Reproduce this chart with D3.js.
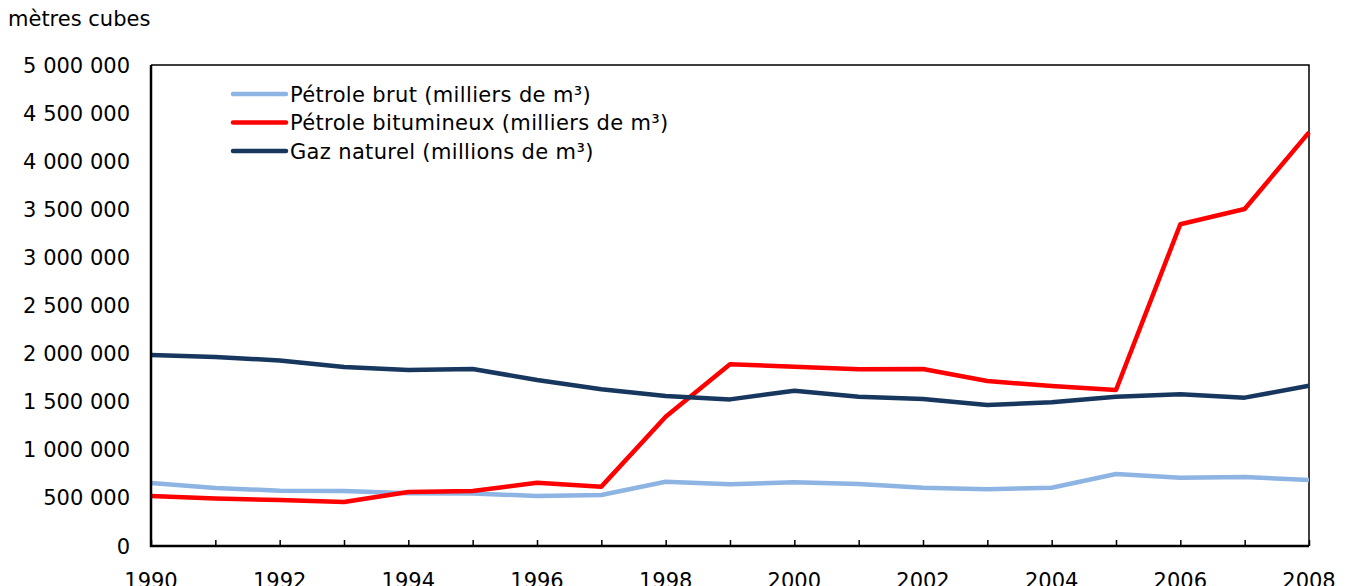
<!DOCTYPE html>
<html>
<head>
<meta charset="utf-8">
<script src="https://cdn.jsdelivr.net/npm/d3@7"></script>
<style>
body { margin: 0; background: #fff; }
svg { font-family: "DejaVu Sans", Verdana, sans-serif; }
</style>
</head>
<body>
<svg id="chart" width="1353" height="586"></svg>
<script>
var years = [1990,1991,1992,1993,1994,1995,1996,1997,1998,1999,2000,2001,2002,2003,2004,2005,2006,2007,2008];
var yearLabels = [1990,1992,1994,1996,1998,2000,2002,2004,2006,2008];
var yTicks = [0,500000,1000000,1500000,2000000,2500000,3000000,3500000,4000000,4500000,5000000];

var brut = [655000,603000,575000,572000,548000,546000,520000,530000,668000,641000,662000,644000,606000,589000,606000,748000,710000,717000,686000];
var bitumineux = [520000,494000,478000,457000,561000,572000,658000,617000,1344000,1889000,1864000,1837000,1840000,1715000,1663000,1622000,3344000,3503000,4300000];
var gaz = [1985000,1965000,1928000,1861000,1830000,1840000,1726000,1629000,1559000,1524000,1614000,1552000,1528000,1466000,1494000,1552000,1577000,1542000,1666000];

var seriesNames = ["Pétrole brut (milliers de m³)", "Pétrole bitumineux (milliers de m³)", "Gaz naturel (millions de m³)"];
var seriesColors = ["#8DB4E2", "#FF0000", "#17375E"];
var seriesData = [brut, bitumineux, gaz];

var svg = d3.select("#chart");
var mLeft = 151, mRight = 1309, mTop = 65, mBottom = 546;
var fs = 21;

var x = d3.scaleLinear().domain([1990, 2008]).range([mLeft, mRight]);
var y = d3.scaleLinear().domain([0, 5000000]).range([mBottom, mTop]);

var fmt = function(v) { return d3.format(",")(v).replace(/,/g, " "); };

// frame top/right
svg.append("path")
    .attr("d", "M" + mLeft + "," + mTop + "H" + mRight + "V" + mBottom)
    .attr("fill", "none")
    .attr("stroke", "#000")
    .attr("stroke-width", 1.5);

// y labels
svg.selectAll(".ylab")
    .data(yTicks)
    .enter().append("text")
    .attr("x", 130)
    .attr("y", function(d) { return y(d); })
    .attr("dy", "0.36em")
    .attr("text-anchor", "end")
    .attr("font-size", fs)
    .attr("fill", "#000")
    .text(fmt);

svg.append("text")
    .attr("x", 8)
    .attr("y", 26)
    .attr("font-size", fs)
    .text("mètres cubes");

// x ticks
var xAxis = d3.axisBottom(x)
    .tickValues(years)
    .tickSize(-6)
    .tickFormat("");
var gx = svg.append("g").attr("transform", "translate(0," + mBottom + ")").call(xAxis);
gx.select(".domain").remove();
gx.selectAll("line").attr("stroke", "#000").attr("stroke-width", 1.5);

svg.selectAll(".xlab")
    .data(yearLabels)
    .enter().append("text")
    .attr("x", function(d) { return x(d); })
    .attr("y", 588)
    .attr("text-anchor", "middle")
    .attr("font-size", fs)
    .text(function(d) { return d; });

// lines
var line = d3.line()
    .x(function(d, i) { return x(years[i]); })
    .y(function(d) { return y(d); });

seriesData.forEach(function(s, i) {
  svg.append("path")
      .datum(s)
      .attr("d", line)
      .attr("fill", "none")
      .attr("stroke", seriesColors[i])
      .attr("stroke-width", 4.5)
      .attr("stroke-linejoin", "round");
});

// axes left / bottom
svg.append("path")
    .attr("d", "M" + mLeft + "," + mTop + "V" + mBottom + "H" + mRight)
    .attr("fill", "none")
    .attr("stroke", "#000")
    .attr("stroke-width", 2.5);

// legend
var leg = svg.selectAll(".leg")
    .data(seriesNames)
    .enter().append("g")
    .attr("transform", function(d, i) { return "translate(233," + (94 + i * 28.5) + ")"; });
leg.append("line")
    .attr("x1", 0).attr("x2", 53)
    .attr("stroke", function(d, i) { return seriesColors[i]; })
    .attr("stroke-width", 4.5)
    .attr("stroke-linecap", "round");
leg.append("text")
    .attr("x", 57)
    .attr("dy", "0.36em")
    .attr("font-size", fs)
    .attr("letter-spacing", 0.35)
    .text(function(d) { return d; });
</script>
</body>
</html>
